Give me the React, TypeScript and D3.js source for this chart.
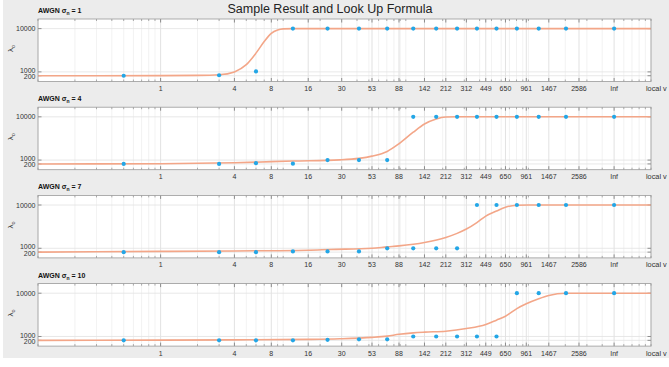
import React from 'react';
import * as d3 from 'd3';

const W = 669;
const H = 367;

// x ticks are custom local-variance bins on a log axis, "Inf" parked at 5000
const xTickValues = [1, 4, 8, 16, 30, 53, 88, 142, 212, 312, 449, 650, 961, 1467, 2586, 5000];
const xTickLabels = ['1', '4', '8', '16', '30', '53', '88', '142', '212', '312', '449', '650', '961', '1467', '2586', 'Inf'];
const yTickValues = [200, 1000, 10000];
const sigmas = [1, 4, 7, 10];

// sample points sit at the bin midpoints
const sampleX = [0.5, 3, 6, 12, 23, 41.5, 70.5, 115, 177, 262, 380.5, 549.5, 805.5, 1214, 2026.5, 5000];
const samples1 = [200, 300, 1100, 10000, 10000, 10000, 10000, 10000, 10000, 10000, 10000, 10000, 10000, 10000, 10000, 10000];
const samples4 = [200, 200, 350, 250, 1000, 1000, 1000, 10000, 10000, 10000, 10000, 10000, 10000, 10000, 10000, 10000];
const samples7 = [200, 200, 200, 350, 350, 350, 1000, 1000, 1000, 1000, 10000, 10000, 10000, 10000, 10000, 10000];
const samples10 = [200, 200, 200, 200, 300, 400, 400, 1000, 1000, 1000, 1000, 1000, 10000, 10000, 10000, 10000];

// look-up formula curves
const fitX1 = [0.1, 1, 2, 3, 4, 5, 6, 7, 8, 9, 10, 12, 10000];
const fitY1 = [200, 220, 270, 400, 1000, 2500, 4900, 7300, 9000, 9700, 9950, 10000, 10000];
const fitX4 = [0.1, 1, 4, 12, 29, 41.5, 53, 70.5, 88, 115, 142, 177, 212, 262, 10000];
const fitY4 = [200, 250, 450, 800, 1050, 1350, 1820, 2800, 4400, 6800, 8500, 9550, 9950, 10000, 10000];
const fitX7 = [0.1, 1, 4, 16, 24, 53, 70.5, 88, 142, 212, 262, 312, 380, 449, 549, 650, 805, 1000, 10000];
const fitY7 = [200, 350, 450, 600, 750, 1000, 1300, 1500, 2200, 3250, 4100, 5000, 6350, 7700, 8750, 9550, 9950, 10000, 10000];
const fitX10 = [0.1, 1, 4, 16, 29, 53, 70.5, 88, 115, 142, 212, 312, 449, 549, 650, 805, 961, 1214, 1467, 2026, 10000];
const fitY10 = [200, 250, 300, 400, 520, 810, 1080, 1450, 1750, 1900, 2100, 2650, 3500, 4400, 5200, 6800, 7800, 8850, 9530, 9980, 10000];

const panels = [
  { sigma: sigmas[0], samples: samples1, fitX: fitX1, fitY: fitY1 },
  { sigma: sigmas[1], samples: samples4, fitX: fitX4, fitY: fitY4 },
  { sigma: sigmas[2], samples: samples7, fitX: fitX7, fitY: fitY7 },
  { sigma: sigmas[3], samples: samples10, fitX: fitX10, fitY: fitY10 },
];

const FONT = '"Liberation Sans", Arial, Helvetica, sans-serif';
const LEFT = 38;
const RIGHT = 651;
const PANEL_H = 62.5;
const PANEL_STEP = 88.2;
const FIRST_TOP = 19;

const x = d3.scaleLog().domain([0.1, 10000]).range([LEFT, RIGHT]);
const minorTicks = x.ticks().filter(t => !xTickValues.includes(t));

const Panel: React.FC<{ idx: number }> = ({ idx }) => {
  const p = panels[idx];
  const top = FIRST_TOP + idx * PANEL_STEP;
  const bottom = top + PANEL_H;
  const y = d3.scaleLinear().domain([-1000, 12000]).range([bottom, top]);

  const line = d3.line<number>()
    .x(d => x(p.fitX[d]))
    .y(d => y(p.fitY[d]))
    .curve(d3.curveMonotoneX);
  const fitPath = line(d3.range(p.fitX.length)) || '';

  return (
    <g>
      <rect x={LEFT} y={top} width={RIGHT - LEFT} height={PANEL_H} fill="#fff" />
      {/* minor grid */}
      {minorTicks.map(t => (
        <line key={'mg' + t} x1={x(t)} x2={x(t)} y1={top} y2={bottom} stroke="#ececec" strokeWidth={0.7} />
      ))}
      {/* major grid */}
      {xTickValues.map(t => (
        <line key={'g' + t} x1={x(t)} x2={x(t)} y1={top} y2={bottom} stroke="#dadada" strokeWidth={0.8} />
      ))}
      {yTickValues.map(t => (
        <line key={'yg' + t} x1={LEFT} x2={RIGHT} y1={y(t)} y2={y(t)} stroke="#e2e2e2" strokeWidth={0.8} />
      ))}
      {/* ticks */}
      {minorTicks.map(t => (
        <g key={'mt' + t}>
          <line x1={x(t)} x2={x(t)} y1={top} y2={top + 2} stroke="#777" strokeWidth={0.6} />
          <line x1={x(t)} x2={x(t)} y1={bottom} y2={bottom - 2} stroke="#777" strokeWidth={0.6} />
        </g>
      ))}
      {xTickValues.map(t => (
        <g key={'t' + t}>
          <line x1={x(t)} x2={x(t)} y1={top} y2={top + 3.5} stroke="#666" strokeWidth={0.7} />
          <line x1={x(t)} x2={x(t)} y1={bottom} y2={bottom - 3.5} stroke="#666" strokeWidth={0.7} />
        </g>
      ))}
      {yTickValues.map(t => (
        <g key={'yt' + t}>
          <line x1={LEFT} x2={LEFT + 3.5} y1={y(t)} y2={y(t)} stroke="#666" strokeWidth={0.7} />
          <line x1={RIGHT} x2={RIGHT - 3.5} y1={y(t)} y2={y(t)} stroke="#666" strokeWidth={0.7} />
        </g>
      ))}
      <path d={fitPath} fill="none" stroke="#f3a688" strokeWidth={1.6} />
      {p.samples.map((v, i) => (
        <circle key={'s' + i} cx={x(sampleX[i])} cy={y(v)} r={2.1} fill="#23a6e6" />
      ))}
      <rect x={LEFT} y={top} width={RIGHT - LEFT} height={PANEL_H} fill="none" stroke="#9a9a9a" strokeWidth={0.8} />
      {/* tick labels */}
      {xTickValues.map((t, i) => (
        <text key={'xl' + t} x={x(t)} y={bottom + 9.5} fontSize={7} fill="#333" textAnchor="middle" fontFamily={FONT}>
          {xTickLabels[i]}
        </text>
      ))}
      {yTickValues.map((t, i) => (
        <text key={'yl' + t} x={LEFT - 2.5} y={y(t) + (i === 0 ? 3.4 : i === 1 ? 1.2 : 2.5)} fontSize={7} fill="#333" textAnchor="end" fontFamily={FONT}>
          {t}
        </text>
      ))}
      {/* the x label runs off the figure edge in the original; only "local v" is visible */}
      <text x={646} y={bottom + 9.5} fontSize={7.3} fill="#333" fontFamily={FONT}>local v</text>
      <text transform={`translate(13, ${top + 33}) rotate(-90)`} fontSize={8} fill="#444" fontFamily={FONT}>
        λ<tspan fontSize={5.5} dy={2}>o</tspan>
      </text>
      <text x={LEFT} y={top - 6} fontSize={7} fontWeight="bold" fill="#111" fontFamily={FONT}>
        AWGN σ<tspan fontSize={5} dy={2}>n</tspan><tspan dy={-2}> = {p.sigma}</tspan>
      </text>
    </g>
  );
};

export default function App() {
  return (
    <svg width={W} height={H} style={{ position: 'absolute', left: 0, top: 0, display: 'block' }}>
      <rect x={0} y={0} width={W} height={H} fill="#fff" />
      <rect x={3} y={0} width={W - 3} height={358} fill="#ececec" />
      <text x={330} y={13} fontSize={12.5} fill="#222" textAnchor="middle" fontFamily={FONT}>
        Sample Result and Look Up Formula
      </text>
      {panels.map((_, i) => (
        <Panel key={i} idx={i} />
      ))}
    </svg>
  );
}
